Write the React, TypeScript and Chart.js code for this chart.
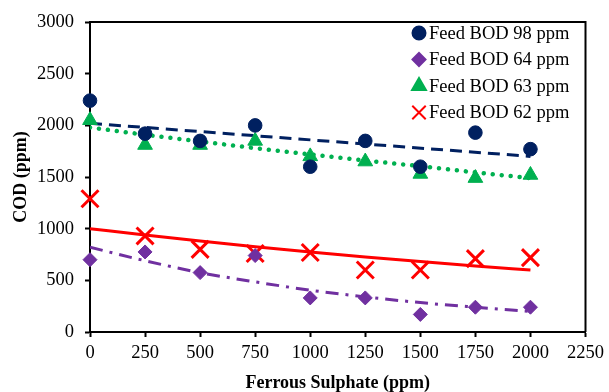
import React, { useEffect, useRef } from 'react';
import { Chart, registerables } from 'chart.js';
import { drawPoint } from 'chart.js/helpers';

Chart.register(...registerables);

const ferrousSulphate = [0, 250, 500, 750, 1000, 1250, 1500, 1750, 2000];
const bod98 = [2240, 1920, 1850, 2000, 1600, 1850, 1600, 1930, 1770];
const bod64 = [700, 775, 575, 740, 330, 330, 170, 240, 240];
const bod63 = [2050, 1810, 1810, 1850, 1700, 1650, 1530, 1490, 1520];
const bod62 = [1290, 930, 800, 760, 770, 600, 600, 710, 720];

const trend98X = [0, 2000];
const trend98 = [2020, 1700];
const trend63 = [1980, 1910, 1845, 1780, 1720, 1660, 1605, 1545, 1490];
const trend62 = [1000, 938, 880, 826, 775, 727, 682, 640, 600];
const trend64 = [820, 690, 575, 485, 405, 340, 285, 240, 200];

const seriesLabels = ['Feed BOD 98 ppm', 'Feed BOD 64 ppm', 'Feed BOD 63 ppm', 'Feed BOD 62 ppm'];
const xTitle = 'Ferrous Sulphate (ppm)';
const yTitle = 'COD (ppm)';

const NAVY = '#002060';
const PURPLE = '#7030A0';
const GREEN = '#00B050';
const RED = '#FF0000';
const FONT = "'Liberation Serif', 'Times New Roman', serif";

const pts = (xs: number[], ys: number[]) => xs.map((x, i) => ({ x, y: ys[i] }));

const legendItems = [
  { label: seriesLabels[0], style: 'circle', color: NAVY, r: 6.5 },
  { label: seriesLabels[1], style: 'rectRot', color: PURPLE, r: 6.5 },
  { label: seriesLabels[2], style: 'triangle', color: GREEN, r: 8 },
  { label: seriesLabels[3], style: 'crossRot', color: RED, r: 9.5 },
];

const framePlugin = {
  id: 'frameAndLegend',
  afterDraw(chart: any) {
    const { ctx, chartArea } = chart;
    ctx.save();
    ctx.strokeStyle = '#000';
    ctx.lineWidth = 2;
    ctx.beginPath();
    ctx.moveTo(chartArea.left, chartArea.top);
    ctx.lineTo(chartArea.right, chartArea.top);
    ctx.lineTo(chartArea.right, chartArea.bottom);
    ctx.stroke();

    const mx = 419;
    const tx = 429;
    const y0 = 33;
    const dy = 26.5;
    ctx.font = `18.5px ${FONT}`;
    ctx.textBaseline = 'middle';
    ctx.textAlign = 'left';
    legendItems.forEach((it, i) => {
      const y = y0 + i * dy;
      ctx.fillStyle = it.color;
      ctx.strokeStyle = it.color;
      drawPoint(ctx, { pointStyle: it.style, radius: it.r, rotation: 0, borderWidth: it.style === 'crossRot' ? 3 : 1 } as any, mx, y);
      ctx.fillStyle = '#000';
      ctx.fillText(it.label, tx, y + 1);
    });
    ctx.restore();
  },
};

const plain = (v: any) => String(v);

export default function App() {
  const ref = useRef<HTMLCanvasElement>(null);
  useEffect(() => {
    document.body.style.margin = '0';
    const canvas = ref.current!;
    const chart = new Chart(canvas, {
      type: 'scatter',
      data: {
        datasets: [
          {
            label: seriesLabels[0], data: pts(ferrousSulphate, bod98), order: 1, clip: false,
            pointStyle: 'circle', pointRadius: 6.8, backgroundColor: NAVY, borderColor: NAVY, borderWidth: 1, showLine: false,
          },
          {
            label: seriesLabels[1], data: pts(ferrousSulphate, bod64), order: 1, clip: false,
            pointStyle: 'rectRot', pointRadius: 7, backgroundColor: PURPLE, borderColor: PURPLE, borderWidth: 1, showLine: false,
          },
          {
            label: seriesLabels[2], data: pts(ferrousSulphate, bod63), order: 1, clip: false,
            pointStyle: 'triangle', pointRadius: 8.5, backgroundColor: GREEN, borderColor: GREEN, borderWidth: 1, showLine: false,
          },
          {
            label: seriesLabels[3], data: pts(ferrousSulphate, bod62), order: 1, clip: false,
            pointStyle: 'crossRot', pointRadius: 12, backgroundColor: RED, borderColor: RED, borderWidth: 3, showLine: false,
          },
          {
            label: 'trend98', data: pts(trend98X, trend98), order: 2, showLine: true, pointRadius: 0,
            borderColor: NAVY, borderWidth: 3, borderDash: [12, 7],
          },
          {
            label: 'trend64', data: pts(ferrousSulphate, trend64), order: 2, showLine: true, pointRadius: 0,
            borderColor: PURPLE, borderWidth: 3, borderDash: [13, 7, 3, 7], tension: 0.4, cubicInterpolationMode: 'monotone',
          },
          {
            label: 'trend63', data: pts(ferrousSulphate, trend63), order: 2, showLine: true, pointRadius: 0,
            borderColor: GREEN, borderWidth: 4.5, borderDash: [0.01, 9], borderCapStyle: 'round', tension: 0.4, cubicInterpolationMode: 'monotone',
          },
          {
            label: 'trend62', data: pts(ferrousSulphate, trend62), order: 2, showLine: true, pointRadius: 0,
            borderColor: RED, borderWidth: 3, tension: 0.4, cubicInterpolationMode: 'monotone',
          },
        ],
      },
      options: {
        animation: false,
        responsive: false,
        maintainAspectRatio: false,
        layout: { padding: { top: 22, right: 21, left: 0, bottom: 0 } },
        plugins: { legend: { display: false }, tooltip: { enabled: false } },
        scales: {
          x: {
            type: 'linear', min: 0, max: 2250,
            ticks: { stepSize: 250, color: '#000', font: { family: FONT, size: 18.5 }, padding: 5, maxRotation: 0, autoSkip: false, callback: plain },
            grid: { drawOnChartArea: false, tickLength: 5, tickColor: '#000', tickWidth: 2 },
            border: { color: '#000', width: 2 },
            title: { display: true, text: xTitle, color: '#000', font: { family: FONT, size: 18, weight: 'bold' }, padding: { top: 4, bottom: -2 } },
            afterFit: (s: any) => { s.height = 60; },
          },
          y: {
            type: 'linear', min: 0, max: 3000,
            ticks: { stepSize: 500, color: '#000', font: { family: FONT, size: 18.5 }, padding: 11, callback: plain },
            grid: { drawOnChartArea: false, tickLength: 5, tickColor: '#000', tickWidth: 2 },
            border: { color: '#000', width: 2 },
            title: { display: true, text: yTitle, color: '#000', font: { family: FONT, size: 18, weight: 'bold' }, padding: { top: 11, bottom: 4 } },
            afterFit: (s: any) => { s.width = 90; },
          },
        },
      } as any,
      plugins: [framePlugin],
    });
    return () => chart.destroy();
  }, []);
  return <canvas ref={ref} width={609} height={392} style={{ display: 'block', width: 609, height: 392 }} />;
}
